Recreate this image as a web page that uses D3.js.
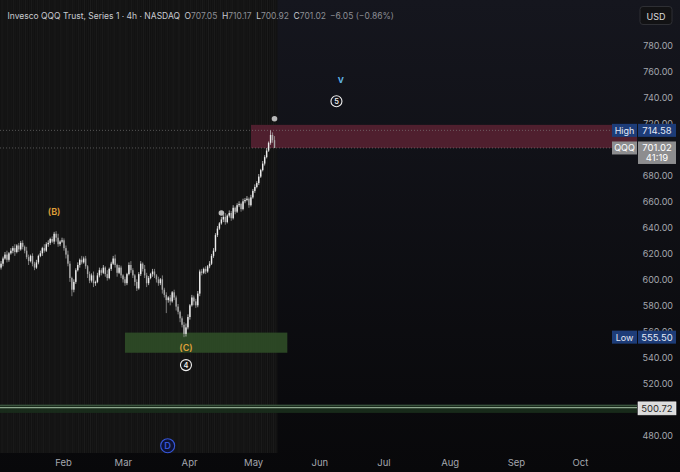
<!DOCTYPE html>
<html>
<head>
<meta charset="utf-8">
<script src="https://cdn.jsdelivr.net/npm/d3@7"></script>
<style>
  html, body { margin: 0; padding: 0; background: #0b0b0e; }
  svg { display: block; font-family: Inter, "Noto Sans", sans-serif; }
</style>
</head>
<body>
<div id="chart"></div>
<script>
// 4h closes, QQQ, Jan 3 -> May 11 (open of each bar = previous close)
const closes = [
  612, 616, 619, 615, 620, 622, 624, 621, 626, 623,
  628, 625, 622, 617, 614, 618, 612, 609, 613, 618,
  620, 624, 622, 627, 628, 631, 629, 635, 632, 627,
  629, 630, 624, 619, 612, 601, 592, 598, 607, 611,
  615, 613, 616, 610, 604, 599, 603, 597, 598, 603,
  607, 605, 609, 604, 601, 608, 612, 616, 611, 605,
  609, 603, 600, 597, 604, 611, 607, 603, 598, 593,
  604, 612, 608, 603, 597, 601, 604, 606, 603, 600,
  597, 600, 592, 588, 584, 586, 583, 590, 586, 579,
  575, 570, 565, 558, 563, 571, 580, 586, 583, 580,
  589, 606, 605, 608, 606, 610, 612, 618, 622, 634,
  639, 643, 646, 648, 644, 649, 651, 647, 655, 652,
  657, 658, 654, 660, 661, 662, 657, 663, 668, 671,
  674, 679, 684, 689, 694, 699, 705, 711, 707.05, 701.02
];
const wickUp = [
  2, 1.5, 2, 3, 1, 2, 1.5, 3, 1, 2,
  1.5, 2, 1, 3, 2, 1, 2, 1.5, 2, 1,
  2, 1, 3, 1.5, 2, 1, 2, 1.5, 2, 3,
  1, 2, 1.5, 2, 3, 2, 1, 2, 1.5, 2,
  1, 3, 1.5, 2, 1, 2, 1.5, 3, 1, 2,
  2, 1.5, 2, 1, 3, 1, 1.5, 2, 3, 1,
  2, 1.5, 1, 2, 1, 2, 3, 1.5, 1, 2,
  1.5, 2, 1, 3, 2, 1.5, 1, 2, 2, 1,
  2, 1, 3, 1.5, 2, 1, 2, 1, 2, 1.5,
  2, 1, 1.5, 2, 3, 2, 1, 2, 1.5, 2,
  2, 1.5, 2, 1, 2, 1, 2, 1.5, 2, 1.5,
  2, 1, 2, 1.5, 3, 1, 2, 1.5, 2, 1,
  1.5, 2, 1, 2, 1.5, 2, 1, 2, 1.5, 2,
  1.5, 2, 1, 2, 1.5, 2, 1, 3.58, 2, 3.12
];
const wickDn = [
  1.5, 2, 1, 2, 1.5, 1, 2, 3, 1, 2,
  1, 2, 2, 1.5, 3, 1, 2, 2, 1, 1.5,
  1, 2, 1.5, 1, 2, 1.5, 1, 2, 3, 2,
  1.5, 1, 2, 3, 2, 3, 5, 2, 1.5, 1,
  2, 1.5, 1, 2, 3, 2, 1.5, 3, 2, 1,
  1.5, 2, 1, 2, 2, 1, 1.5, 1, 2, 3,
  1, 2, 2.5, 2, 1.5, 1, 2, 2, 3, 2,
  1, 1.5, 2, 2, 3, 1.5, 1, 2, 2, 2.5,
  2, 1.5, 3, 2, 10, 2, 3, 1, 2, 3,
  2, 3, 2, 2.5, 2, 1.5, 2, 1, 3, 2,
  1.5, 2, 2, 1, 2, 1, 1.5, 1, 1.5, 1,
  1.5, 1, 1, 2, 2, 1, 1.5, 2, 1, 2,
  1, 1.5, 2, 1, 1.5, 1, 2, 1, 1, 1.5,
  1, 1.5, 1, 1, 1.5, 1, 1, 1.5, 2, 0.1
];
const firstOpen = 609;
const firstBar = new Date(2026, 0, 3);
const lastBar = new Date(2026, 4, 11);

const monthTicks = [1, 2, 3, 4, 5, 6, 7, 8, 9].map(m => new Date(2026, m, 1));
// 500 and 700 sit under the price tags
const priceTicks = [480, 520, 540, 560, 580, 600, 620, 640, 660, 680, 720, 740, 760, 780];

const redZone = { from: new Date(2026, 3, 30), top: 718.8, bottom: 701.0 };
const greenZone = { from: new Date(2026, 2, 2), to: new Date(2026, 4, 17), top: 559, bottom: 543.5 };
const support = { top: 503.5, line: 501.3, bottom: 497.2 };

const waveText = [
  { t: "(B)", bar: 27, v: 652, color: "#e0a23a", size: 9 },
  { t: "(C)", bar: 94, v: 547.5, color: "#e0a23a", size: 9 },
  { t: "v", date: new Date(2026, 5, 11), v: 754, color: "#5fb3e6", size: 10.5 }
];
const circled = [
  { t: "4", bar: 94, v: 534, color: "#eeeeee", r: 5.5 },
  { t: "5", date: new Date(2026, 5, 9), v: 737, color: "#eeeeee", r: 5.5 },
  { t: "D", date: new Date(2026, 2, 22), v: 472, color: "#3656d8", r: 7 }
];
const markers = [{ bar: 112, v: 651 }, { bar: 139, v: 723.5 }];

const priceTags = [
  { label: "High", value: 714.58, text: ["714.58"], kind: "blue" },
  { label: "QQQ", value: 701.02, text: ["701.02", "41:19"], kind: "gray" },
  { label: "Low", value: 555.50, text: ["555.50"], kind: "blue" },
  { label: null, value: 500.72, text: ["500.72"], kind: "white" }
];

let width = 680, height = 472, plotRight = 637;

let svg = d3.select('#chart')
  .append('svg')
  .attr('width', width)
  .attr('height', height)
  .attr('viewBox', [0, 0, width, height].join(' '));

let x = d3.scaleTime()
  .domain([new Date(2026, 1, 1), new Date(2026, 9, 1)])
  .range([63, 580]);
let y = d3.scaleLinear()
  .domain([480, 780])
  .range([435.3, 45.3]);
let barX = d3.scaleLinear()
  .domain([0, closes.length - 1])
  .range([x(firstBar), x(lastBar)]);

// background
let defs = svg.append('defs');
let grad = defs.append('linearGradient').attr('id', 'bg').attr('x1', 0).attr('x2', 0).attr('y1', 0).attr('y2', 1);
grad.append('stop').attr('offset', '0%').attr('stop-color', '#15161e');
grad.append('stop').attr('offset', '100%').attr('stop-color', '#08080a');
svg.append('rect').attr('width', width).attr('height', height).attr('fill', 'url(#bg)');

let dataEnd = barX(closes.length - 1) + 3;
svg.append('rect').attr('x', 0).attr('y', 0).attr('width', dataEnd).attr('height', 453)
  .attr('fill', '#121212');
svg.append('g').selectAll('line').data(closes).join('line')
  .attr('x1', (d, i) => barX(i) + 0.9).attr('x2', (d, i) => barX(i) + 0.9)
  .attr('y1', 0).attr('y2', 453)
  .attr('stroke', '#1c1c1c')
  .attr('stroke-width', (d, i) => i % 3 === 0 ? 1 : 0.5);

let plot = svg.append('g');

// zones
plot.append('rect')
  .attr('x', x(redZone.from)).attr('y', y(redZone.top))
  .attr('width', plotRight - x(redZone.from))
  .attr('height', y(redZone.bottom) - y(redZone.top))
  .attr('fill', '#4f1f2e');
plot.append('rect')
  .attr('x', x(greenZone.from)).attr('y', y(greenZone.top))
  .attr('width', x(greenZone.to) - x(greenZone.from))
  .attr('height', y(greenZone.bottom) - y(greenZone.top))
  .attr('fill', '#2f4d27').attr('opacity', 0.9);

plot.append('rect')
  .attr('x', 0).attr('y', y(support.top))
  .attr('width', plotRight).attr('height', y(support.bottom) - y(support.top))
  .attr('fill', '#1a2e1c').attr('opacity', 0.9);
plot.append('line')
  .attr('x1', 0).attr('x2', plotRight).attr('y1', y(support.top) + 0.5).attr('y2', y(support.top) + 0.5)
  .attr('stroke', '#45624a').attr('stroke-width', 1);
plot.append('line')
  .attr('x1', 0).attr('x2', plotRight).attr('y1', y(support.line)).attr('y2', y(support.line))
  .attr('stroke', '#8ea68e').attr('stroke-width', 1.3);

// dotted price lines
[714.58, 701.02].forEach(v => {
  plot.append('line')
    .attr('x1', 0).attr('x2', plotRight).attr('y1', y(v)).attr('y2', y(v))
    .attr('stroke', '#8a8a8a').attr('stroke-width', 0.8)
    .attr('stroke-dasharray', '1,2').attr('opacity', 0.7);
});

// candles
let bars = closes.map((c, i) => {
  let o = i === 0 ? firstOpen : closes[i - 1];
  return { i, o, c, h: Math.max(o, c) + wickUp[i], l: Math.min(o, c) - wickDn[i] };
});
let candle = plot.append('g').selectAll('g').data(bars).join('g');
candle.append('line')
  .attr('x1', d => barX(d.i)).attr('x2', d => barX(d.i))
  .attr('y1', d => y(d.h)).attr('y2', d => y(d.l))
  .attr('stroke', d => d.c >= d.o ? '#e6e6e6' : '#a8a8a8')
  .attr('stroke-width', 0.7);
candle.append('rect')
  .attr('x', d => barX(d.i) - 0.7)
  .attr('y', d => y(Math.max(d.o, d.c)))
  .attr('width', 1.4)
  .attr('height', d => Math.max(0.8, Math.abs(y(d.o) - y(d.c))))
  .attr('fill', d => d.c >= d.o ? '#ececec' : '#a8a8a8');

plot.selectAll('circle.mk').data(markers).join('circle')
  .attr('class', 'mk')
  .attr('cx', d => barX(d.bar)).attr('cy', d => y(d.v)).attr('r', 2.8)
  .attr('fill', '#b8b8b8');

// wave labels
let px = d => d.date ? x(d.date) : barX(d.bar);
plot.selectAll('text.wave').data(waveText).join('text')
  .attr('class', 'wave')
  .attr('x', px).attr('y', d => y(d.v))
  .attr('text-anchor', 'middle').attr('dominant-baseline', 'central')
  .attr('font-size', d => d.size).attr('font-weight', 600)
  .attr('fill', d => d.color)
  .text(d => d.t);
let circ = plot.selectAll('g.circ').data(circled).join('g').attr('class', 'circ')
  .attr('transform', d => `translate(${px(d)},${y(d.v)})`);
circ.append('circle')
  .attr('r', d => d.r)
  .attr('fill', d => d.t === 'D' ? '#0d1233' : 'none')
  .attr('stroke', d => d.color).attr('stroke-width', 1.1);
circ.append('text')
  .attr('text-anchor', 'middle').attr('dominant-baseline', 'central')
  .attr('font-size', d => d.r * 1.35).attr('font-weight', 600)
  .attr('fill', d => d.color)
  .text(d => d.t);

// header
let head = svg.append('text').attr('x', 7.5).attr('y', 18.8).attr('font-size', 8.5).attr('fill', '#c9cbd1');
head.append('tspan').text('Invesco QQQ Trust, Series 1 · 4h · NASDAQ');
[['O', '707.05'], ['H', '710.17'], ['L', '700.92'], ['C', '701.02']].forEach(p => {
  head.append('tspan').attr('dx', 4.5).text(p[0]);
  head.append('tspan').attr('fill', '#8c8e94').text(p[1]);
});
head.append('tspan').attr('dx', 4).attr('fill', '#8c8e94').text('−6.05 (−0.86%)');

// USD button
svg.append('rect').attr('x', 640).attr('y', 6.5).attr('width', 32).attr('height', 18).attr('rx', 3)
  .attr('fill', '#121214').attr('stroke', '#2e2f34');
svg.append('text').attr('x', 656).attr('y', 16).attr('text-anchor', 'middle').attr('dominant-baseline', 'central')
  .attr('font-size', 9).attr('fill', '#dcdcdc').text('USD');

// axes
let yAxis = svg.append('g').attr('transform', 'translate(673,0)')
  .call(d3.axisLeft(y).tickValues(priceTicks).tickFormat(d3.format('.2f')).tickSize(0).tickPadding(0));
yAxis.select('.domain').remove();
yAxis.selectAll('text').attr('fill', '#a4a7ae').attr('font-size', 9).attr('font-family', 'Inter, "Noto Sans", sans-serif');

let xAxis = svg.append('g').attr('transform', 'translate(0,455)')
  .call(d3.axisBottom(x).tickValues(monthTicks).tickFormat(d3.timeFormat('%b')).tickSize(0).tickPadding(4));
xAxis.select('.domain').remove();
xAxis.selectAll('text').attr('fill', '#a4a7ae').attr('font-size', 9.5).attr('font-family', 'Inter, "Noto Sans", sans-serif');

// price tags
let tagFill = { blue: '#1d3c78', gray: '#8d8d8f', white: '#dcdcdc' };
let tagText = { blue: '#e4e9f5', gray: '#ffffff', white: '#2a2a2a' };
let tags = svg.append('g').selectAll('g').data(priceTags).join('g')
  .attr('transform', d => `translate(0,${y(d.value)})`);
tags.filter(d => d.label).append('rect')
  .attr('x', 612).attr('y', -6.5).attr('width', 25).attr('height', 13)
  .attr('fill', d => tagFill[d.kind]);
tags.filter(d => d.label).append('text')
  .attr('x', 624.5).attr('y', 0).attr('text-anchor', 'middle').attr('dominant-baseline', 'central')
  .attr('font-size', 9).attr('fill', d => tagText[d.kind]).text(d => d.label);
tags.append('rect')
  .attr('x', 638).attr('y', -6.5).attr('width', 38)
  .attr('height', d => 13 + (d.text.length - 1) * 9.5)
  .attr('fill', d => tagFill[d.kind])
  .attr('stroke', d => d.kind === 'white' ? '#f0f0f0' : 'none').attr('stroke-width', 0.6);
tags.each(function (d) {
  d3.select(this).selectAll('text.val').data(d.text).join('text')
    .attr('class', 'val')
    .attr('x', 657).attr('y', (t, k) => k * 9.5)
    .attr('text-anchor', 'middle').attr('dominant-baseline', 'central')
    .attr('font-size', 9.5).attr('fill', tagText[d.kind])
    .text(t => t);
});
</script>
</body>
</html>
